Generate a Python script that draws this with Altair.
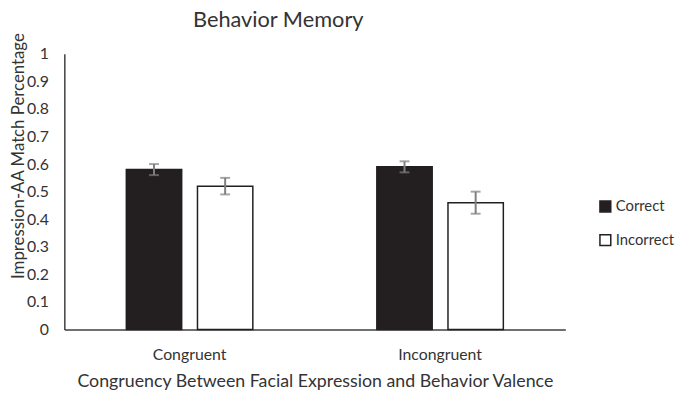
import altair as alt
import pandas as pd

groups = ["Congruent", "Congruent", "Incongruent", "Incongruent"]
answers = ["Correct", "Incorrect", "Correct", "Incorrect"]
means = [0.58, 0.52, 0.59, 0.46]
errs = [0.02, 0.03, 0.02, 0.04]
y_ticks = [0, 0.1, 0.2, 0.3, 0.4, 0.5, 0.6, 0.7, 0.8, 0.9, 1.0]

df = pd.DataFrame({
    "group": groups,
    "answer": answers,
    "mean": means,
    "lo": [m - e for m, e in zip(means, errs)],
    "hi": [m + e for m, e in zip(means, errs)],
})

FONT = "Lato"
DARK = "#231f20"
TXT = "#333333"

x_axis = alt.Axis(labelAngle=0, ticks=False, labelPadding=17, labelFontSize=16,
                  titleFontSize=18, titlePadding=11, domainColor="#404040", domainWidth=1.5)
x_scale = alt.Scale(paddingInner=0.495, paddingOuter=0.2475)
x_title = "Congruency Between Facial Expression and Behavior Valence"
y_axis = alt.Axis(values=y_ticks, format="~g", ticks=False, grid=False, labelPadding=16,
                  labelOverlap=False, labelFontSize=16, titleFontSize=17,
                  domainColor="#404040", domainWidth=1.5, titleX=-46, titleY=103,
                  titleAlign="center", titleBaseline="middle", titleAngle=-90)
y_scale = alt.Scale(domain=[0, 1], nice=False)
y_title = "Impression-AA Match Percentage"
xo_scale = alt.Scale(paddingInner=0.222, paddingOuter=0)


def X():
    return alt.X("group:N", title=x_title, scale=x_scale, axis=x_axis)


def XO():
    return alt.XOffset("answer:N", scale=xo_scale)


def Y(field):
    return alt.Y(field, title=y_title, scale=y_scale, axis=y_axis)


bars = alt.Chart(df).mark_bar(stroke=DARK, strokeWidth=1.5).encode(
    x=X(), xOffset=XO(), y=Y("mean:Q"),
    fill=alt.Fill("answer:N", title=None,
                  scale=alt.Scale(domain=["Correct", "Incorrect"], range=[DARK, "white"]),
                  legend=alt.Legend(orient="none", legendX=540, legendY=147,
                                    symbolType="square", symbolSize=120,
                                    symbolStrokeColor=DARK, symbolStrokeWidth=1.5,
                                    labelFontSize=15, rowPadding=17, labelOffset=3)),
)

rules = alt.Chart(df).mark_rule(color="#7f7f7f", strokeWidth=2).encode(
    x=X(), xOffset=XO(), y=Y("lo:Q"), y2="hi:Q")
cap_lo = alt.Chart(df).mark_tick(color="#7f7f7f", size=10, thickness=2).encode(
    x=X(), xOffset=XO(), y=Y("lo:Q"))
cap_hi = alt.Chart(df).mark_tick(color="#7f7f7f", size=10, thickness=2).encode(
    x=X(), xOffset=XO(), y=Y("hi:Q"))

chart = alt.layer(bars, rules, cap_lo, cap_hi).properties(
    width=507, height=279,
    title=alt.Title("Behavior Memory", fontSize=22, fontWeight="normal", font=FONT,
                    color=TXT, anchor="middle", dx=-37, offset=0, frame="group"),
    autosize=alt.AutoSizeParams(type="none"),
    padding={"left": 57, "top": 44, "right": 113, "bottom": 70},
).configure(font=FONT).configure_axis(
    labelColor=TXT, titleColor=TXT, labelFont=FONT, titleFont=FONT, titleFontWeight="normal"
).configure_legend(labelColor=TXT, labelFont=FONT).configure_view(stroke=None)

chart.save("out.html", embed_options={"renderer": "svg", "actions": False})
